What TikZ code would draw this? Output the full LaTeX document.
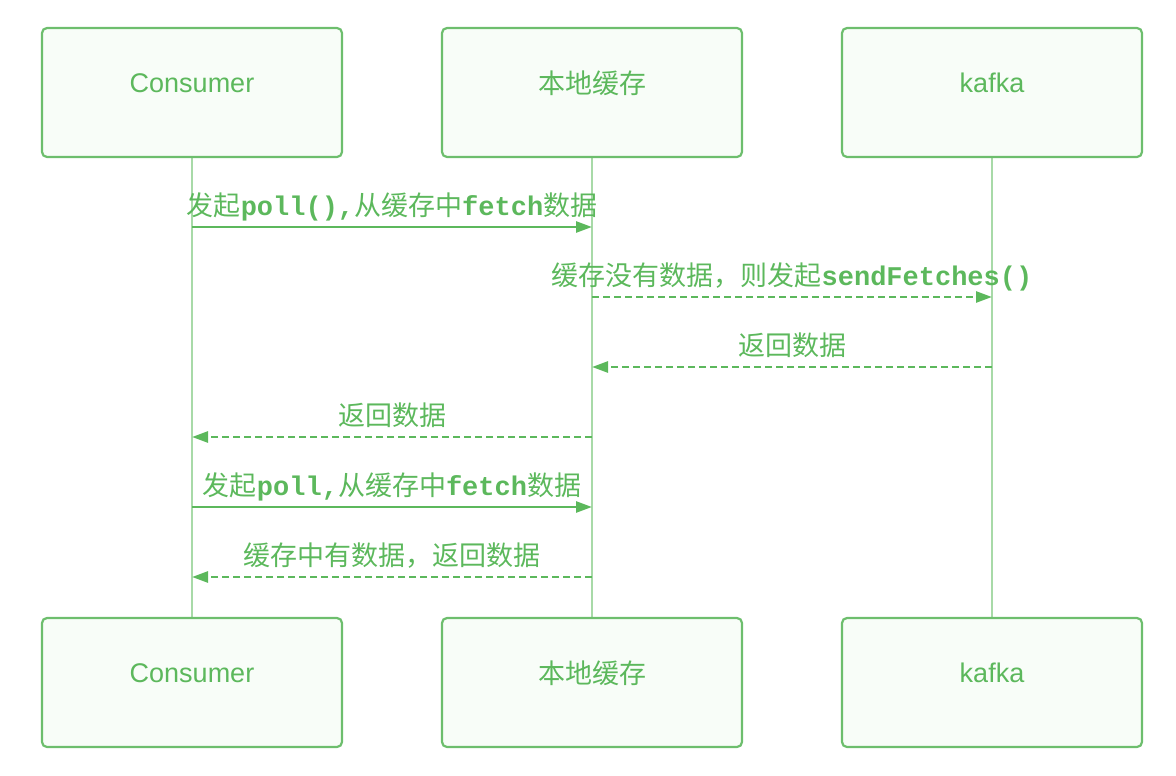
\documentclass[tikz,border=0pt]{standalone}
\usepackage{fontspec}
\setmainfont{Liberation Sans}
\newfontfamily\cjk{Noto Sans CJK SC}
\newfontfamily\cmono{Liberation Mono}
\usetikzlibrary{arrows.meta}
\definecolor{grn}{HTML}{5CB85C}
\definecolor{boxline}{HTML}{6DBE6D}
\definecolor{boxfill}{HTML}{F8FDF8}
\definecolor{life}{HTML}{A8DAA8}
\newcommand{\zh}[1]{{\cjk #1}}
\newcommand{\cd}[1]{{\cmono\bfseries #1}}
\begin{document}
\begin{tikzpicture}[x=1pt,y=-1pt,
 actor/.style={draw=boxline, fill=boxfill, line width=2.2pt, rounded corners=5pt, minimum width=300pt, minimum height=129pt, inner sep=0pt},
 actortext/.style={text=grn, font=\fontsize{27}{30}\selectfont, inner sep=0pt},
 lifeline/.style={draw=life, line width=1.6pt},
 msg/.style={draw=grn, line width=2.6pt, -{Triangle[length=16pt,width=11pt]}},
 reply/.style={msg, dash pattern=on 7pt off 4pt},
 lbl/.style={text=grn, font=\fontsize{27}{30}\selectfont, anchor=base, inner sep=0pt, yshift=12pt}]
\useasboundingbox (0,0) rectangle (1176,776);
% lifelines
\coordinate (t1) at (192,157); \coordinate (u1) at (192,618);
\coordinate (t2) at (592,157); \coordinate (u2) at (592,618);
\coordinate (t3) at (992,157); \coordinate (u3) at (992,618);
\draw[lifeline] (t1) -- (u1);
\draw[lifeline] (t2) -- (u2);
\draw[lifeline] (t3) -- (u3);
% actor boxes
\node[actor] (a1) at (192,92.5) {};
\node[actor] (a2) at (592,92.5) {};
\node[actor] (a3) at (992,92.5) {};
\node[actor] (b1) at (192,682.5) {};
\node[actor] (b2) at (592,682.5) {};
\node[actor] (b3) at (992,682.5) {};
\node[actortext] (a1t) at (192,83) {Consumer};
\node[actortext] (a2t) at (592,83) {\zh{本地缓存}};
\node[actortext] (a3t) at (992,83) {kafka};
\node[actortext] (b1t) at (192,673) {Consumer};
\node[actortext] (b2t) at (592,673) {\zh{本地缓存}};
\node[actortext] (b3t) at (992,673) {kafka};
% message rows
\coordinate (r1) at (0,227);
\coordinate (r2) at (0,297);
\coordinate (r3) at (0,367);
\coordinate (r4) at (0,437);
\coordinate (r5) at (0,507);
\coordinate (r6) at (0,577);
\draw[msg] (a1 |- r1) -- node[lbl] {\zh{发起}\cd{poll(),}\zh{从缓存中}\cd{fetch}\zh{数据}} (a2 |- r1);
\draw[reply] (a2 |- r2) -- node[lbl] {\zh{缓存没有数据，则发起}\cd{sendFetches()}} (a3 |- r2);
\draw[reply] (a3 |- r3) -- node[lbl] {\zh{返回数据}} (a2 |- r3);
\draw[reply] (a2 |- r4) -- node[lbl] {\zh{返回数据}} (a1 |- r4);
\draw[msg] (a1 |- r5) -- node[lbl] {\zh{发起}\cd{poll,}\zh{从缓存中}\cd{fetch}\zh{数据}} (a2 |- r5);
\draw[reply] (a2 |- r6) -- node[lbl] {\zh{缓存中有数据，返回数据}} (a1 |- r6);
\end{tikzpicture}
\end{document}
